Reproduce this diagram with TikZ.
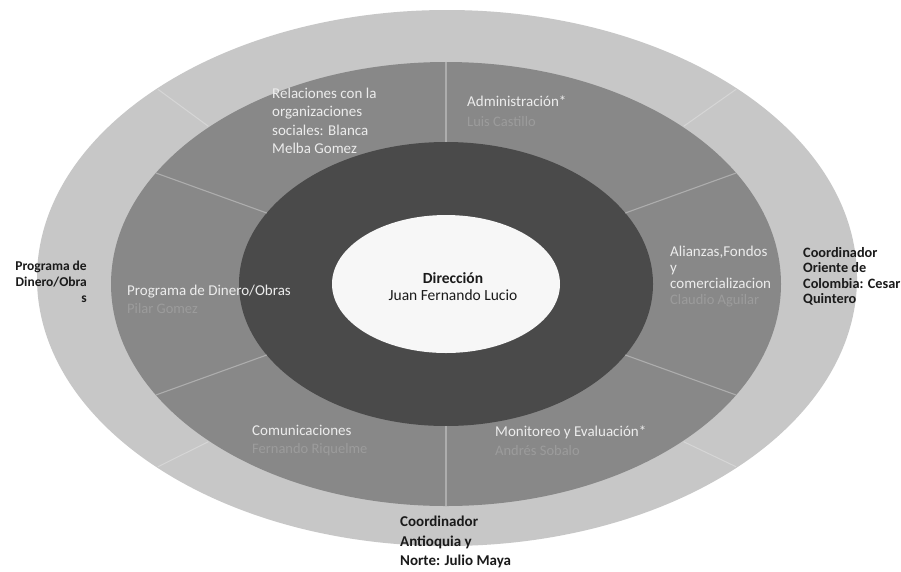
\documentclass[tikz,border=0pt]{standalone}
\usepackage{fontspec}
\setmainfont{Carlito}
\usetikzlibrary{calc}
\definecolor{outerc}{HTML}{C7C7C7}
\definecolor{midc}{HTML}{888888}
\definecolor{darkc}{HTML}{4A4A4A}
\definecolor{centerc}{HTML}{F7F7F7}
\definecolor{midlinec}{HTML}{ADADAD}
\definecolor{outlinec}{HTML}{D6D6D6}
\definecolor{labc}{HTML}{ECECEC}
\definecolor{subc}{HTML}{9C9C9C}
\definecolor{inkc}{HTML}{1A1A1A}
\tikzset{
  ringlab/.style={anchor=north west, inner sep=0pt, align=left, text=labc, font=\fontsize{15}{16}\selectfont},
  sublab/.style={anchor=north west, inner sep=0pt, align=left, text=subc, font=\fontsize{14.5}{16}\selectfont},
  outlab/.style={inner sep=0pt, text=inkc, font=\bfseries\fontsize{14.3}{15.5}\selectfont},
  midline/.style={draw=midlinec, line width=1.1pt},
  outline/.style={draw=outlinec, line width=1pt}
}
\begin{document}
\begin{tikzpicture}[x=1pt,y=1pt]
\useasboundingbox (0,0) rectangle (901,-571);
\fill[white] (0,0) rectangle (901,-571);
\coordinate (c) at (446,-284);
\coordinate (co) at (447,-278);
\fill[outerc] (co) ellipse [x radius=410pt, y radius=268pt];
\fill[midc] (c) ellipse [x radius=335pt, y radius=222pt];
\fill[darkc] (c) ellipse [x radius=207pt, y radius=142pt];
\fill[centerc] (c) ellipse [x radius=114pt, y radius=69pt];
\foreach \t in {90,30,-30,-90,-150,150}
  \draw[midline] ($(c)+(\t:207pt and 142pt)$) -- ($(c)+(\t:335pt and 222pt)$);
\foreach \t in {45,135,225,315}
  \draw[outline] ($(c)+(\t:336pt and 223pt)$) -- ($(co)+(\t:409pt and 267pt)$);
% middle ring labels
\node[ringlab, font=\fontsize{15}{18.3}\selectfont] (rel) at (272,-88) {Relaciones con la\\organizaciones\\sociales: Blanca\\Melba Gomez};
\node[ringlab] (adm) at (467,-96) {Administración*};
\node[sublab] (admn) at (467,-116) {Luis Castillo};
\node[ringlab] (prog) at (127,-285) {Programa de Dinero/Obras};
\node[sublab] (progn) at (127,-303) {Pilar Gomez};
\node[ringlab] (ali) at (670,-246) {Alianzas,Fondos\\y\\comercializacion};
\node[sublab] (alin) at (670,-294) {Claudio Aguilar};
\node[ringlab] (com) at (252,-425) {Comunicaciones};
\node[sublab] (comn) at (252,-443) {Fernando Riquelme};
\node[ringlab] (mon) at (495,-426) {Monitoreo y Evaluación*};
\node[sublab] (monn) at (495,-445) {Andrés Sobalo};
% centre
\node[inner sep=0pt, align=center, text=inkc, font=\fontsize{15.5}{17}\selectfont] (dir) at (453,-287) {\textbf{Dirección}\\Juan Fernando Lucio};
% outer labels
\node[outlab, anchor=north east, align=right, font=\bfseries\fontsize{13.5}{16}\selectfont] (left) at (87,-261) {Programa de\\Dinero/Obra\\s};
\node[outlab, anchor=north west, align=left] (right) at (803,-247) {Coordinador\\Oriente de\\Colombia: Cesar\\Quintero};
\node[outlab, anchor=north west, align=left, font=\bfseries\fontsize{15}{19.5}\selectfont] (bot) at (400,-516) {Coordinador\\Antioquia y\\Norte: Julio Maya};
\end{tikzpicture}
\end{document}
